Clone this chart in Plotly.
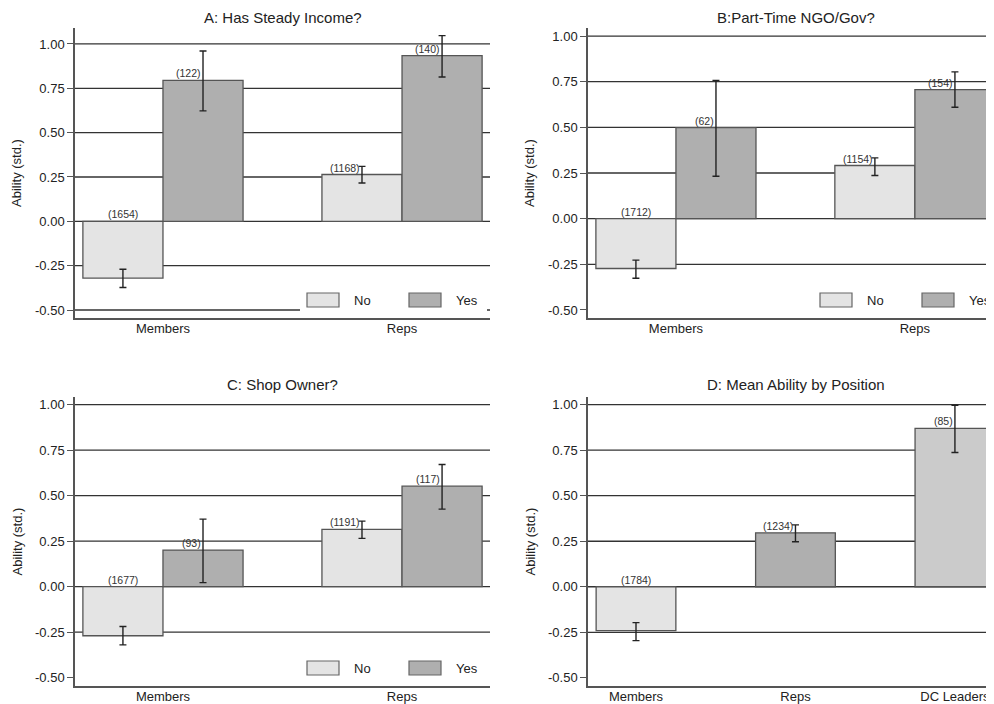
import plotly.graph_objects as go

# ---------------- data ----------------
groups2 = ["Members", "Reps"]
groupsD = ["Members", "Reps", "DC Leaders"]
series_names = ["No", "Yes"]
ytick_vals = [1.0, 0.75, 0.5, 0.25, 0.0, -0.25, -0.5]
ytick_text = ["1.00", "0.75", "0.50", "0.25", "0.00", "-0.25", "-0.50"]

titles = ["A: Has Steady Income?", "B:Part-Time NGO/Gov?", "C: Shop Owner?", "D: Mean Ability by Position"]

A_no = [-0.320, 0.264]
A_no_hi = [-0.270, 0.310]
A_no_lo = [-0.373, 0.216]
A_yes = [0.795, 0.934]
A_yes_hi = [0.960, 1.047]
A_yes_lo = [0.623, 0.814]
A_no_n = ["(1654)", "(1168)"]
A_yes_n = ["(122)", "(140)"]

B_no = [-0.273, 0.291]
B_no_hi = [-0.227, 0.333]
B_no_lo = [-0.326, 0.236]
B_yes = [0.498, 0.707]
B_yes_hi = [0.757, 0.804]
B_yes_lo = [0.232, 0.610]
B_no_n = ["(1712)", "(1154)"]
B_yes_n = ["(62)", "(154)"]

C_no = [-0.270, 0.315]
C_no_hi = [-0.219, 0.360]
C_no_lo = [-0.320, 0.265]
C_yes = [0.201, 0.552]
C_yes_hi = [0.371, 0.671]
C_yes_lo = [0.022, 0.426]
C_no_n = ["(1677)", "(1191)"]
C_yes_n = ["(93)", "(117)"]

D_vals = [-0.241, 0.296, 0.870]
D_hi = [-0.197, 0.340, 0.997]
D_lo = [-0.296, 0.247, 0.737]
D_n = ["(1784)", "(1234)", "(85)"]

# ---------------- style ----------------
WIN_W, WIN_H = 994, 704
OFF = 8                      # page body margin of the html page
W, H = WIN_W - OFF, WIN_H - OFF
FONT = "Liberation Sans, Arial, Helvetica, sans-serif"
C_NO = "#e4e4e4"
C_YES = "#afafaf"
D_COLORS = ["#e4e4e4", "#afafaf", "#cbcbcb"]
OUTLINE = "#555555"
GRID = "#333333"
AXIS = "#555555"
TXT = "#222222"

# panel geometry in window pixels: left, right, top, bottom, y-range, x-range
panels = [
    dict(l=75, r=490, t=28, b=318, yr=[-0.545, 1.090], xr=[-0.368, 1.368], full_r=490),
    dict(l=588, r=994, t=28, b=318, yr=[-0.544, 1.044], xr=[-0.368, 1.331], full_r=1003),
    dict(l=75, r=490, t=397, b=686, yr=[-0.546, 1.042], xr=[-0.368, 1.368], full_r=490),
    dict(l=588, r=994, t=397, b=686, yr=[-0.545, 1.042], xr=[-0.301, 2.245], full_r=1003),
]
grid_vals = [
    [1.0, 0.75, 0.5, 0.25, 0.0, -0.25, -0.5],
    [1.0, 0.75, 0.5, 0.25, 0.0, -0.25],
    [1.0, 0.75, 0.5, 0.25, 0.0, -0.25],
    [1.0, 0.75, 0.5, 0.25, 0.0, -0.25],
]

BW2 = 0.335   # bar width, two-series panels
BWD = 0.5     # bar width, panel D

fig = go.Figure()
shapes = []
annotations = []


def px2x(p):
    return min(1.0, max(0.0, (p - OFF) / W))


def px2y(p):
    return min(1.0, max(0.0, 1 - (p - OFF) / H))


def err(vals, hi, lo):
    return dict(type="data", symmetric=False,
                array=[h - v for h, v in zip(hi, vals)],
                arrayminus=[v - l for l, v in zip(lo, vals)],
                color="#222222", thickness=1.4, width=3.5)


def add_labels(xs, vals, labels, xa, ya):
    for x, v, t in zip(xs, vals, labels):
        annotations.append(dict(
            x=x, y=max(v, 0), xref=xa, yref=ya, text=t, showarrow=False,
            xanchor="center" if v < 0 else "right", yanchor="bottom",
            yshift=-1, font=dict(family=FONT, size=10.5, color="#333333")))


two_series = [
    (A_no, A_no_hi, A_no_lo, A_no_n, A_yes, A_yes_hi, A_yes_lo, A_yes_n),
    (B_no, B_no_hi, B_no_lo, B_no_n, B_yes, B_yes_hi, B_yes_lo, B_yes_n),
    (C_no, C_no_hi, C_no_lo, C_no_n, C_yes, C_yes_hi, C_yes_lo, C_yes_n),
]

for i, p in enumerate(panels):
    k = "" if i == 0 else str(i + 1)
    xa, ya = "x" + k, "y" + k
    if i < 3:
        no, no_hi, no_lo, no_n, yes, yes_hi, yes_lo, yes_n = two_series[i]
        gx = list(range(len(groups2)))
        x_no = [g - BW2 / 2 for g in gx]
        x_yes = [g + BW2 / 2 for g in gx]
        fig.add_trace(go.Bar(x=x_no, y=no, width=BW2, name=series_names[0],
                             marker=dict(color=C_NO, line=dict(color=OUTLINE, width=1.3)),
                             error_y=err(no, no_hi, no_lo), xaxis=xa, yaxis=ya, showlegend=False))
        fig.add_trace(go.Bar(x=x_yes, y=yes, width=BW2, name=series_names[1],
                             marker=dict(color=C_YES, line=dict(color=OUTLINE, width=1.3)),
                             error_y=err(yes, yes_hi, yes_lo), xaxis=xa, yaxis=ya, showlegend=False))
        add_labels(x_no, no, no_n, xa, ya)
        add_labels(x_yes, yes, yes_n, xa, ya)
        cats = groups2
    else:
        gx = list(range(len(groupsD)))
        fig.add_trace(go.Bar(x=gx, y=D_vals, width=BWD,
                             marker=dict(color=D_COLORS, line=dict(color=OUTLINE, width=1.3)),
                             error_y=err(D_vals, D_hi, D_lo), xaxis=xa, yaxis=ya, showlegend=False))
        add_labels(gx, D_vals, D_n, xa, ya)
        cats = groupsD

    xdom = [px2x(p["l"]), px2x(p["r"])]
    ydom = [px2y(p["b"]), px2y(p["t"])]
    fig.layout["xaxis" + k] = dict(
        domain=xdom, range=p["xr"], anchor=ya, tickvals=gx, ticktext=cats,
        showgrid=False, zeroline=False, showline=True, linecolor=AXIS, linewidth=1.5,
        ticks="", ticklabelstandoff=-2,
        tickfont=dict(family=FONT, size=13, color=TXT), fixedrange=True)
    fig.layout["yaxis" + k] = dict(
        domain=ydom, range=p["yr"], anchor=xa, tickvals=ytick_vals, ticktext=ytick_text,
        showgrid=False, zeroline=False, showline=True, linecolor=AXIS, linewidth=1.5,
        ticks="outside", ticklen=6, tickcolor=AXIS, tickwidth=1.2,
        tickfont=dict(family=FONT, size=13, color=TXT), fixedrange=True)

    # gridlines
    for gv in grid_vals[i]:
        shapes.append(dict(type="line", xref=xa + " domain", yref=ya, x0=0, x1=1, y0=gv, y1=gv,
                           line=dict(color=GRID, width=1.3), layer="below"))

    # title
    title_top = p["t"] - 22
    annotations.append(dict(x=((p["l"] + p["full_r"]) / 2 - OFF) / W, y=px2y(title_top),
                            xref="paper", yref="paper", text=titles[i], showarrow=False,
                            xanchor="center", yanchor="top", borderpad=0,
                            font=dict(family=FONT, size=15, color=TXT)))
    # y axis title
    annotations.append(dict(x=px2x(p["l"] - 58), y=px2y((p["t"] + p["b"]) / 2), xref="paper",
                            yref="paper", text="Ability (std.)", textangle=-90, showarrow=False,
                            xanchor="center", yanchor="middle",
                            font=dict(family=FONT, size=13, color=TXT)))

    # legend (two-series panels)
    if i < 3:
        b = p["b"]
        shapes.append(dict(type="rect", xref="paper", yref="paper",
                           x0=px2x(p["l"] + 225), x1=px2x(p["l"] + 412),
                           y0=px2y(b - 2), y1=px2y(b - 35),
                           fillcolor="white", line=dict(width=0), layer="below"))
        for off, col, lab in [(232, C_NO, series_names[0]), (334, C_YES, series_names[1])]:
            shapes.append(dict(type="rect", xref="paper", yref="paper",
                               x0=px2x(p["l"] + off), x1=px2x(p["l"] + off + 32),
                               y0=px2y(b - 11), y1=px2y(b - 25),
                               fillcolor=col, line=dict(color="#666666", width=1.2), layer="above"))
            annotations.append(dict(x=px2x(p["l"] + off + 46), y=px2y(b - 18), xref="paper",
                                    yref="paper", text=lab, showarrow=False, xanchor="left",
                                    yanchor="middle", borderpad=0,
                                    font=dict(family=FONT, size=13, color=TXT)))

fig.update_layout(
    width=W, height=H, margin=dict(l=0, r=0, t=0, b=0),
    paper_bgcolor="white", plot_bgcolor="white",
    barmode="overlay", showlegend=False,
    shapes=shapes, annotations=annotations,
    font=dict(family=FONT, color=TXT),
)

fig.write_html("out.html", config={"displayModeBar": False})
